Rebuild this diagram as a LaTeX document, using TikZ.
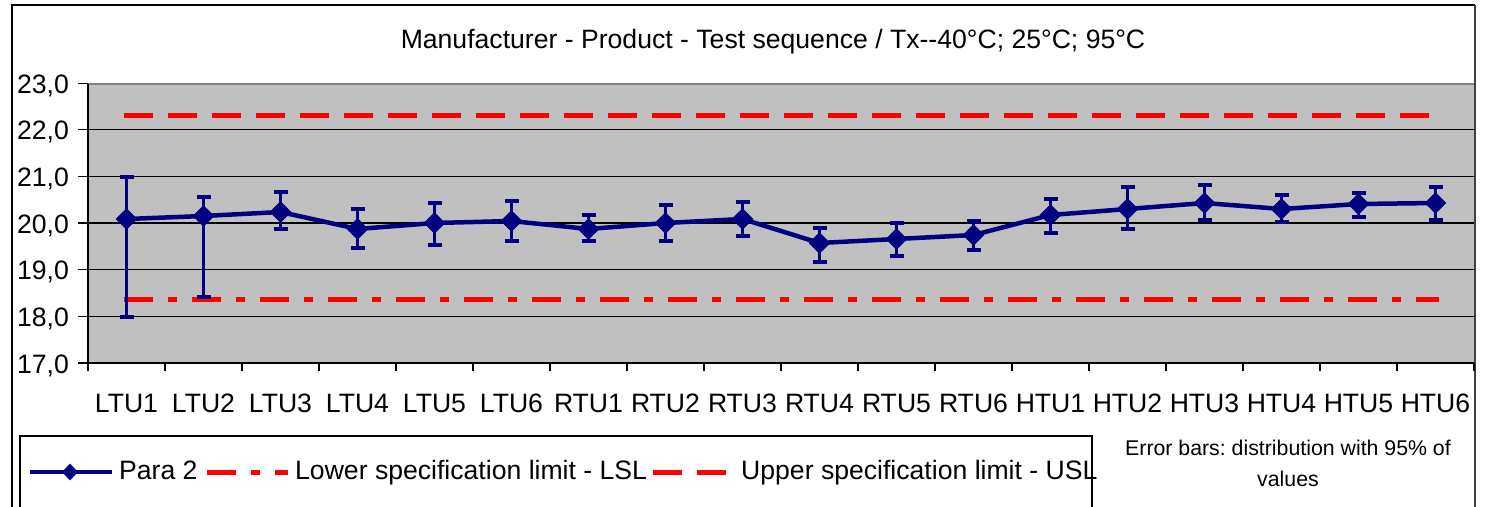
\documentclass[tikz,border=0pt]{standalone}
\usepackage{fontspec}
\setmainfont{Liberation Sans}[Ligatures=NoCommon]
\usetikzlibrary{shapes.geometric}
\frenchspacing
\definecolor{navyblue}{RGB}{0,0,128}
\definecolor{plotgray}{RGB}{192,192,192}
\definecolor{edgegray}{RGB}{128,128,128}
\definecolor{limred}{RGB}{255,0,0}
\tikzset{
  bigtext/.style={font=\fontsize{26.6}{30}\selectfont, inner sep=0pt},
  smalltext/.style={font=\fontsize{21.3}{25}\selectfont, inner sep=0pt},
  gridline/.style={line width=1.2pt, black},
  errbar/.style={line width=3pt, navyblue},
  errcap/.style={line width=3.5pt, navyblue},
  seriesline/.style={line width=4.5pt, navyblue, line join=round},
  marker/.style={diamond, fill=navyblue, draw=none, minimum width=22pt, minimum height=22pt, inner sep=0pt},
  legmarker/.style={diamond, fill=navyblue, draw=none, minimum width=16pt, minimum height=17pt, inner sep=0pt},
  usl/.style={line width=5pt, limred, dash pattern=on 29pt off 15pt},
  lsl/.style={line width=5pt, limred, dash pattern=on 29pt off 15pt on 8.5pt off 15.5pt},
  frameline/.style={line width=1.5pt, black},
}
\begin{document}
\begin{tikzpicture}[x=1pt, y=-1pt]
\useasboundingbox (0,0) rectangle (1485,506);
\fill[white] (0,0) rectangle (1485,506);
% outer chart frame
\draw[frameline] (12,520) -- (12,5) -- (1475,5);
\draw[line width=2.5pt, black!75] (1475,5) -- (1475,520);
% title
\node[bigtext, anchor=base] (title) at (773,48) {Manufacturer - Product - Test sequence / Tx-{}-40°C; 25°C; 95°C};
% plot area
\fill[plotgray] (88,84) rectangle (1474,363);
\draw[line width=2pt, edgegray] (88,84) -- (1474,84);
% gridlines
\foreach \g in {129.7,176.3,223,269.7,316.3} {
  \draw[gridline] (88,\g) -- (1474,\g);
}
% axes
\draw[gridline] (88,84) -- (88,363) -- (1474,363);
\foreach \g/\lab in {83.5/{23,0},129.7/{22,0},176.3/{21,0},223/{20,0},269.7/{19,0},316.3/{18,0},363/{17,0}} {
  \draw[gridline] (78,\g) -- (88,\g);
  \node[bigtext, anchor=base east] at (69,\g+10) {\lab};
}
\foreach \k in {0,...,18} {
  \draw[gridline] (88+77*\k,363) -- (88+77*\k,371);
}
\foreach \lab [count=\i] in {LTU1,LTU2,LTU3,LTU4,LTU5,LTU6,RTU1,RTU2,RTU3,RTU4,RTU5,RTU6,HTU1,HTU2,HTU3,HTU4,HTU5,HTU6} {
  \node[bigtext, anchor=base] (cat\i) at (126.5+77*\i-77,412) {\lab};
}
% limit lines
\coordinate (uslA) at (124,115);
\coordinate (uslB) at (1439,115);
\coordinate (lslA) at (124,299);
\coordinate (lslB) at (1439,299);
\draw[usl] (uslA) -- (uslB);
\draw[lsl] (lslA) -- (lslB);
% data
\foreach \i/\v/\t/\b in {1/219/177/317, 2/216/197/297, 3/212/192/229, 4/229/209/248, 5/223/203/245, 6/221/201/241, 7/229/215/241, 8/223/205/241, 9/219/202/236, 10/243/228/262, 11/239/223/256, 12/235/221/250, 13/215/199/233, 14/209/187/229, 15/203/185/220, 16/209/195/222, 17/204/193/217, 18/203/187/220} {
  \pgfmathsetmacro\xx{126.5+77*(\i-1)}
  \coordinate (t\i) at (\xx,\t);
  \coordinate (b\i) at (\xx,\b);
  \coordinate (p\i) at (\xx,\v);
}
\foreach \i in {1,...,18} {
  \draw[errbar] (t\i) -- (b\i);
  \draw[errcap] ([xshift=-7pt]t\i) -- ([xshift=7pt]t\i);
  \draw[errcap] ([xshift=-7pt]b\i) -- ([xshift=7pt]b\i);
}
\draw[seriesline] (p1) \foreach \i in {2,...,18} { -- (p\i) };
\foreach \i in {1,...,18} {
  \node[marker] (m\i) at (p\i) {};
}
% legend
\draw[line width=1.2pt, black] (20,520) -- (20,436) -- (1092,436) -- (1092,520);
\coordinate (legA) at (30,472);
\coordinate (legB) at (112,472);
\draw[line width=4pt, navyblue] (legA) -- (legB);
\node[legmarker] (legM) at (70,472) {};
\node[bigtext, anchor=base west] (legP) at (119,479) {Para 2};
\coordinate (legC) at (207,472);
\coordinate (legD) at (288,472);
\draw[lsl] (legC) -- (legD);
\node[bigtext, anchor=base west] (legL) at (295,479) {Lower specification limit - LSL};
\coordinate (legE) at (653,472);
\coordinate (legF) at (726,472);
\draw[usl] (legE) -- (legF);
\node[bigtext, anchor=base west] (legU) at (741,479) {Upper specification limit - USL};
% note
\node[smalltext, anchor=base] (note1) at (1288,455) {Error bars: distribution with 95\% of};
\node[smalltext, anchor=base] (note2) at (1288,486) {values};
\end{tikzpicture}
\end{document}
